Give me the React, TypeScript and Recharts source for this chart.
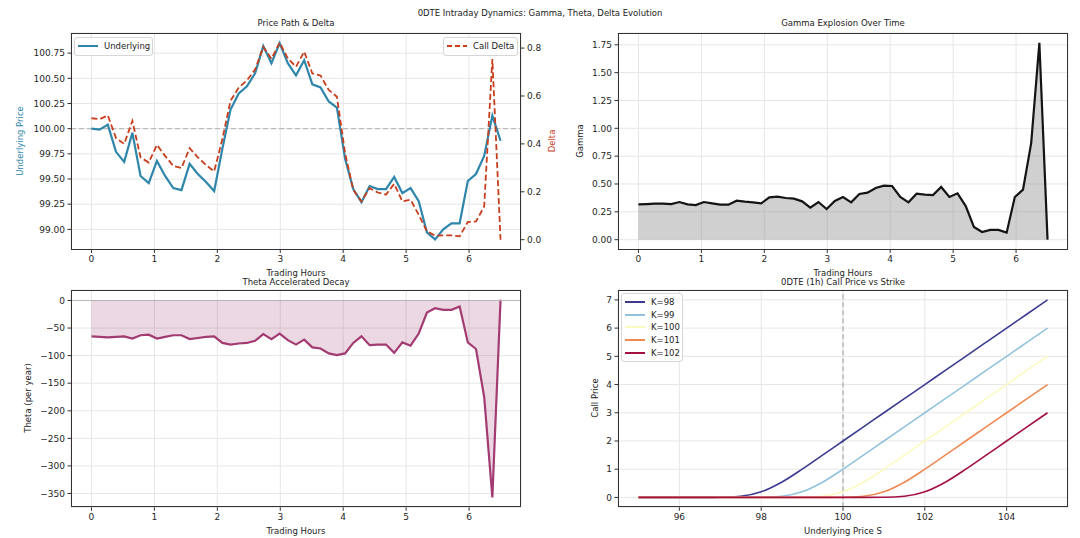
import {
  Area,
  CartesianGrid,
  ComposedChart,
  Line,
  LineChart,
  ReferenceLine,
  XAxis,
  YAxis,
} from "recharts";

// ---- data ----
const hours = [
  0, 0.13, 0.26, 0.39, 0.52, 0.65, 0.78, 0.91, 1.04, 1.17, 1.3, 1.43, 1.56,
  1.69, 1.82, 1.95, 2.08, 2.21, 2.34, 2.47, 2.6, 2.73, 2.86, 2.99, 3.12, 3.25,
  3.38, 3.51, 3.64, 3.77, 3.9, 4.03, 4.16, 4.29, 4.42, 4.55, 4.68, 4.81, 4.94,
  5.07, 5.2, 5.33, 5.46, 5.59, 5.72, 5.85, 5.98, 6.11, 6.24, 6.37, 6.5,
];

const underlying = [
  100.0, 99.99, 100.04, 99.77, 99.67, 99.96, 99.53, 99.46, 99.68, 99.53, 99.41,
  99.39, 99.65, 99.55, 99.47, 99.38, 99.8, 100.19, 100.35, 100.42, 100.55,
  100.82, 100.65, 100.85, 100.65, 100.53, 100.68, 100.44, 100.41, 100.27,
  100.21, 99.7, 99.4, 99.27, 99.43, 99.4, 99.4, 99.52, 99.36, 99.41, 99.28,
  98.97, 98.9, 99.0, 99.06, 99.06, 99.48, 99.55, 99.73, 100.13, 99.88,
];

const callDelta = [
  0.507, 0.503, 0.519, 0.424, 0.4, 0.496, 0.344, 0.322, 0.396, 0.35, 0.308,
  0.299, 0.382, 0.344, 0.312, 0.285, 0.42, 0.58, 0.635, 0.665, 0.71, 0.805,
  0.755, 0.823, 0.757, 0.722, 0.785, 0.694, 0.685, 0.625, 0.597, 0.361, 0.208,
  0.16, 0.215, 0.197, 0.188, 0.233, 0.16, 0.167, 0.104, 0.035, 0.017, 0.018,
  0.018, 0.014, 0.074, 0.076, 0.139, 0.754, 0,
];

const gamma = [
  0.317, 0.32, 0.323, 0.323, 0.32, 0.338, 0.317, 0.311, 0.338, 0.326, 0.314,
  0.314, 0.35, 0.341, 0.335, 0.326, 0.38, 0.386, 0.374, 0.368, 0.344, 0.287,
  0.338, 0.275, 0.347, 0.383, 0.335, 0.41, 0.422, 0.464, 0.485, 0.482, 0.383,
  0.335, 0.413, 0.404, 0.4, 0.473, 0.383, 0.416, 0.302, 0.114, 0.069, 0.087,
  0.087, 0.063, 0.383, 0.449, 0.867, 1.768, 0,
];

const theta = [
  -65, -66, -67, -66, -65, -69, -63, -62, -69, -66, -63, -63, -70, -68, -66,
  -65, -77, -80, -78, -77, -73, -61, -70, -60, -72, -80, -71, -85, -87, -96,
  -99, -96, -77, -65, -81, -80, -80, -95, -76, -82, -60, -22, -14, -17, -17,
  -11, -76, -88, -175, -357, 1.5,
];

const spot = [
  95, 95.5, 96, 96.5, 97, 97.5, 98, 98.5, 99, 99.5, 100, 100.5, 101, 101.5, 102,
  102.5, 103, 103.5, 104, 104.5, 105,
];
const strikes = [98, 99, 100, 101, 102];
const callK98 = [0, 0, 0, 0, 0.004, 0.04, 0.2, 0.54, 1.0, 1.5, 2.0, 2.5, 3.0, 3.5, 4.0, 4.5, 5.0, 5.5, 6.0, 6.5, 7.0];
const callK99 = [0, 0, 0, 0, 0, 0, 0.004, 0.04, 0.2, 0.54, 1.0, 1.5, 2.0, 2.5, 3.0, 3.5, 4.0, 4.5, 5.0, 5.5, 6.0];
const callK100 = [0, 0, 0, 0, 0, 0, 0, 0, 0.004, 0.04, 0.2, 0.54, 1.0, 1.5, 2.0, 2.5, 3.0, 3.5, 4.0, 4.5, 5.0];
const callK101 = [0, 0, 0, 0, 0, 0, 0, 0, 0, 0, 0.004, 0.04, 0.2, 0.54, 1.0, 1.5, 2.0, 2.5, 3.0, 3.5, 4.0];
const callK102 = [0, 0, 0, 0, 0, 0, 0, 0, 0, 0, 0, 0, 0.004, 0.04, 0.2, 0.54, 1.0, 1.5, 2.0, 2.5, 3.0];
const strikeColors = ["#3b3b8f", "#93c3dc", "#fbfac0", "#f08a55", "#a3123f"];

const hourTicks = [0, 1, 2, 3, 4, 5, 6];
const priceTicks = [99.0, 99.25, 99.5, 99.75, 100.0, 100.25, 100.5, 100.75];
const deltaTicks = [0, 0.2, 0.4, 0.6, 0.8];
const gammaTicks = [0, 0.25, 0.5, 0.75, 1.0, 1.25, 1.5, 1.75];
const thetaTicks = [-350, -300, -250, -200, -150, -100, -50, 0];
const spotTicks = [96, 98, 100, 102, 104];
const priceAxisTicks = [0, 1, 2, 3, 4, 5, 6, 7];

const timeRows = hours.map((t, i) => ({
  t,
  price: underlying[i],
  delta: callDelta[i],
  gamma: gamma[i],
  theta: theta[i],
}));

const callSeries = [callK98, callK99, callK100, callK101, callK102];
const callRows = spot.map((s, i) => {
  const row: Record<string, number> = { s };
  strikes.forEach((k, j) => {
    row[`k${k}`] = callSeries[j][i];
  });
  return row;
});

// ---- styling ----
const FONT = '"DejaVu Sans", sans-serif';
const AX = "#333";
const GRID = "#e6e6e6";
const BLUE = "#2E86AB";
const RED = "#C73E1D";
const PURPLE = "#A23B72";
const tick = { fontSize: 9, fill: "#262626", fontFamily: FONT };
const minus = (v: number) => (v < 0 ? `\u2212${Math.abs(v)}` : `${v}`);

function Txt({ x, y, size = 8.5, color = "#222", rotate = 0, children }: any) {
  return (
    <div
      style={{
        position: "absolute",
        left: x,
        top: y,
        transform: `translate(-50%, -50%) rotate(${rotate}deg)`,
        fontSize: size,
        color,
        fontFamily: FONT,
        whiteSpace: "nowrap",
        lineHeight: 1,
      }}
    >
      {children}
    </div>
  );
}

function Box({ x1, y1, x2, y2 }: any) {
  return (
    <div
      style={{
        position: "absolute",
        left: x1,
        top: y1,
        width: x2 - x1,
        height: y2 - y1,
        border: `1px solid ${AX}`,
        boxSizing: "border-box",
        pointerEvents: "none",
      }}
    />
  );
}

function LegendBox({ left, top, width, items }: any) {
  return (
    <div
      style={{
        position: "absolute",
        left,
        top,
        width,
        padding: "2px 0",
        background: "rgba(255,255,255,0.85)",
        border: "1px solid #d6d6d6",
        borderRadius: 3,
        boxSizing: "border-box",
        fontFamily: FONT,
        fontSize: 8.5,
        color: "#222",
      }}
    >
      {items.map((it: any) => (
        <div
          key={it.label}
          style={{ display: "flex", alignItems: "center", height: 12.6, paddingLeft: 3 }}
        >
          <svg width={20} height={6} style={{ marginRight: 6 }}>
            <line
              x1={0}
              y1={3}
              x2={20}
              y2={3}
              stroke={it.color}
              strokeWidth={2}
              strokeDasharray={it.dash}
            />
          </svg>
          <span>{it.label}</span>
        </div>
      ))}
    </div>
  );
}

export default function App() {
  return (
    <div style={{ position: "absolute", left: 0, top: 0, width: 1080, height: 538, background: "#fff" }}>
      <Txt x={540} y={13}>0DTE Intraday Dynamics: Gamma, Theta, Delta Evolution</Txt>

      {/* Price Path & Delta */}
      <div style={{ position: "absolute", left: 0, top: 0 }}>
        <ComposedChart width={560} height={290} data={timeRows} margin={{ top: 33, right: 0, bottom: 0, left: 0 }}>
          <CartesianGrid yAxisId="left" stroke={GRID} />
          <XAxis dataKey="t" type="number" domain={[-0.325, 6.825]} ticks={hourTicks} allowDataOverflow height={40.5} tick={tick} tickLine={{ stroke: AX }} axisLine={false} tickSize={3.5} tickMargin={2.5} />
          <YAxis yAxisId="left" type="number" domain={[98.8, 100.95]} ticks={priceTicks} allowDataOverflow width={71} tick={tick} tickLine={{ stroke: AX }} axisLine={false} tickSize={3.5} tickMargin={2.5} tickFormatter={(v: number) => v.toFixed(2)} />
          <YAxis yAxisId="right" orientation="right" type="number" domain={[-0.041, 0.863]} ticks={deltaTicks} allowDataOverflow width={39} tick={tick} tickLine={{ stroke: AX }} axisLine={false} tickSize={3.5} tickMargin={2.5} tickFormatter={(v: number) => v.toFixed(1)} />
          <ReferenceLine yAxisId="left" y={100} stroke="#b0b0b0" strokeDasharray="5 3" />
          <Line yAxisId="left" dataKey="price" stroke={BLUE} strokeWidth={2.2} dot={false} isAnimationActive={false} />
          <Line yAxisId="right" dataKey="delta" stroke={RED} strokeWidth={1.8} strokeDasharray="6 3" dot={false} isAnimationActive={false} />
        </ComposedChart>
      </div>
      <Box x1={71} y1={33} x2={521} y2={249.5} />
      <LegendBox left={74} top={37} width={79} items={[{ label: "Underlying", color: BLUE }]} />
      <LegendBox left={443} top={37} width={75} items={[{ label: "Call Delta", color: RED, dash: "5 3" }]} />
      <Txt x={296} y={23}>Price Path &amp; Delta</Txt>
      <Txt x={296} y={273}>Trading Hours</Txt>
      <Txt x={20} y={141} rotate={-90} color={BLUE}>Underlying Price</Txt>
      <Txt x={552} y={141} rotate={-90} color={RED}>Delta</Txt>

      {/* Gamma */}
      <div style={{ position: "absolute", left: 540, top: 0 }}>
        <ComposedChart width={540} height={290} data={timeRows} margin={{ top: 33, right: 12, bottom: 0, left: 0 }}>
          <CartesianGrid stroke={GRID} />
          <XAxis dataKey="t" type="number" domain={[-0.325, 6.825]} ticks={hourTicks} allowDataOverflow height={40.5} tick={tick} tickLine={{ stroke: AX }} axisLine={false} tickSize={3.5} tickMargin={2.5} />
          <YAxis type="number" domain={[-0.0884, 1.856]} ticks={gammaTicks} allowDataOverflow width={78} tick={tick} tickLine={{ stroke: AX }} axisLine={false} tickSize={3.5} tickMargin={2.5} tickFormatter={(v: number) => v.toFixed(2)} />
          <Area dataKey="gamma" type="linear" baseValue={0} stroke="#141414" strokeWidth={2.2} fill="#808080" fillOpacity={0.37} isAnimationActive={false} />
        </ComposedChart>
      </div>
      <Box x1={618} y1={33} x2={1068} y2={249.5} />
      <Txt x={843} y={23}>Gamma Explosion Over Time</Txt>
      <Txt x={843} y={273}>Trading Hours</Txt>
      <Txt x={580} y={141} rotate={-90}>Gamma</Txt>

      {/* Theta */}
      <div style={{ position: "absolute", left: 0, top: 250 }}>
        <ComposedChart width={560} height={288} data={timeRows} margin={{ top: 40, right: 39, bottom: 0, left: 0 }}>
          <CartesianGrid stroke={GRID} />
          <XAxis dataKey="t" type="number" domain={[-0.325, 6.825]} ticks={hourTicks} allowDataOverflow height={30.7} tick={tick} tickLine={{ stroke: AX }} axisLine={false} tickSize={3.5} tickMargin={2.5} />
          <YAxis type="number" domain={[-375, 19]} ticks={thetaTicks} allowDataOverflow width={71} tick={tick} tickLine={{ stroke: AX }} axisLine={false} tickSize={3.5} tickMargin={2.5} tickFormatter={minus} />
          <ReferenceLine y={0} stroke="#b5b5b5" strokeWidth={1} />
          <Area dataKey="theta" type="linear" baseValue={0} stroke={PURPLE} strokeWidth={2.2} fill={PURPLE} fillOpacity={0.2} isAnimationActive={false} />
        </ComposedChart>
      </div>
      <Box x1={71} y1={290} x2={521} y2={507.3} />
      <Txt x={296} y={282}>Theta Accelerated Decay</Txt>
      <Txt x={296} y={531}>Trading Hours</Txt>
      <Txt x={28} y={398} rotate={-90}>Theta (per year)</Txt>

      {/* Call price vs strike */}
      <div style={{ position: "absolute", left: 540, top: 250 }}>
        <LineChart width={540} height={288} data={callRows} margin={{ top: 40, right: 12, bottom: 0, left: 0 }}>
          <CartesianGrid stroke={GRID} />
          <XAxis dataKey="s" type="number" domain={[94.5, 105.5]} ticks={spotTicks} allowDataOverflow height={30.7} tick={tick} tickLine={{ stroke: AX }} axisLine={false} tickSize={3.5} tickMargin={2.5} />
          <YAxis type="number" domain={[-0.35, 7.35]} ticks={priceAxisTicks} allowDataOverflow width={78} tick={tick} tickLine={{ stroke: AX }} axisLine={false} tickSize={3.5} tickMargin={2.5} />
          <ReferenceLine x={100} stroke="#9a9a9a" strokeDasharray="5 3" />
          {strikes.map((k, j) => (
            <Line key={k} dataKey={`k${k}`} type="monotone" stroke={strikeColors[j]} strokeWidth={1.6} dot={false} isAnimationActive={false} />
          ))}
        </LineChart>
      </div>
      <Box x1={618} y1={290} x2={1068} y2={507.3} />
      <LegendBox
        left={621}
        top={293}
        width={62}
        items={strikes.map((k, j) => ({ label: `K=${k}`, color: strikeColors[j] }))}
      />
      <Txt x={843} y={282}>0DTE (1h) Call Price vs Strike</Txt>
      <Txt x={843} y={531}>Underlying Price S</Txt>
      <Txt x={595} y={398} rotate={-90}>Call Price</Txt>
    </div>
  );
}
